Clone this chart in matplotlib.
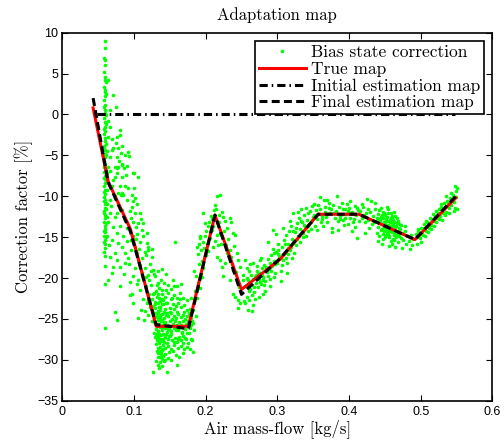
import numpy as np
import matplotlib
matplotlib.use("Agg")
import matplotlib.pyplot as plt

# ---------------- data ----------------
title = "Adaptation map"
xlabel = "Air mass-flow [kg/s]"
ylabel = "Correction factor [%]"
series_names = ["Bias state correction", "True map", "Initial estimation map", "Final estimation map"]

x_ticks = [0, 0.1, 0.2, 0.3, 0.4, 0.5, 0.6]
x_ticklabels = ["0", "0.1", "0.2", "0.3", "0.4", "0.5", "0.6"]
y_ticks = [-35, -30, -25, -20, -15, -10, -5, 0, 5, 10]
y_ticklabels = ["\u221235", "\u221230", "\u221225", "\u221220", "\u221215", "\u221210", "\u22125", "0", "5", "10"]

# map breakpoints
map_x = [0.043, 0.064, 0.095, 0.131, 0.176, 0.213, 0.250, 0.304, 0.357, 0.414, 0.492, 0.549]
true_map = [0.8, -8.2, -14.0, -25.9, -25.9, -12.3, -21.4, -17.7, -12.2, -12.2, -15.3, -10.2]
final_map = [2.0, -8.3, -14.3, -25.7, -26.2, -12.3, -22.0, -17.6, -12.2, -12.2, -15.3, -10.0]
init_x = [0.048, 0.548]
init_map = [0.0, 0.0]

# bias state correction samples (cluster by cluster)
spike_pts = [(0.059,9.0),(0.059,8.1),(0.0585,6.9),(0.059,6.6),(0.0595,6.0),(0.0585,5.2),(0.060,4.6),(0.059,4.2),(0.0585,3.3),(0.060,3.0),(0.059,2.7),(0.0595,2.2),(0.0585,1.8),(0.060,1.2),(0.059,0.6),(0.0595,0.2),(0.0585,-0.4),(0.060,-0.9),(0.059,-1.5),(0.0595,-2.0),(0.0585,-2.4),(0.060,-2.9),(0.059,-3.3),(0.0585,-3.8),(0.060,-4.3),(0.059,-4.8),(0.0595,-5.2),(0.0585,-5.7),(0.060,-6.1),(0.059,-6.6),(0.0585,-7.0),(0.060,-7.5),(0.059,-7.9),(0.0595,-8.4),(0.0585,-8.8),(0.060,-9.2),(0.059,-9.7),(0.0585,-10.1),(0.060,-10.5),(0.059,-11.0),(0.0595,-11.4),(0.0585,-11.8),(0.060,-12.3),(0.059,-12.7),(0.0585,-13.1),(0.060,-13.6),(0.059,-14.0),(0.0595,-14.4),(0.0585,-14.9),(0.060,-15.3),(0.059,-15.8),(0.0595,-16.3),(0.0585,-16.8),(0.059,-17.3),(0.059,-18.5),(0.0595,-20.7),(0.059,-26.1),(0.0605,-3.6),(0.0575,-6.4),(0.0605,-8.1),(0.0575,-9.5),(0.0605,-10.8),(0.0575,-12.0),(0.0605,-13.3),(0.0575,-14.2),(0.0605,-1.2),(0.0575,0.9),(0.0605,2.5),(0.061,4.0),
             (0.0605,-5.0),(0.0575,-4.0),(0.0605,-6.8),(0.0575,-7.8),(0.0605,-11.6),(0.0575,-15.6),(0.0605,-15.0),(0.0575,-10.6),(0.0605,-0.1),(0.0575,-1.8)]

upper_cloud_pts = [(0.0633,4.2),(0.071,2.4),(0.0745,0.9),(0.0665,0.5),(0.064,-0.8),(0.0665,-1.5),(0.064,-2.7),(0.0768,-2.7),(0.0805,-2.5),(0.081,-1.9),(0.0745,-3.5),(0.078,-4.1),(0.071,-4.1),(0.069,-4.3),(0.076,-5.2),(0.0875,-5.0),(0.0935,-5.1),(0.092,-4.6),(0.082,-4.7),(0.084,-3.9),(0.083,-6.2),(0.078,-6.4),(0.076,-6.6),(0.0735,-6.4),(0.0665,-5.2),(0.064,-6.4),(0.0735,-7.6),(0.083,-7.6),(0.086,-6.6),(0.083,-6.0),(0.099,-7.2),(0.1005,-7.2),(0.105,-7.6),(0.0875,-8.8),(0.092,-9.0),(0.0805,-8.8),(0.078,-9.6),(0.085,-9.8),(0.097,-9.8),(0.1015,-10.2),(0.071,-8.0),(0.076,-7.2),(0.069,-3.0),(0.062,-4.5),(0.0625,-7.2),(0.067,-6.9),(0.0895,-7.4),(0.0905,-6.3),(0.079,-5.7)]

left_cloud_pts = [(0.062,-9.2),(0.0689,-8.8),(0.0735,-10.0),(0.0666,-10.5),(0.0781,-10.9),(0.0829,-11.7),(0.062,-12.5),(0.0735,-12.5),(0.0875,-12.9),(0.0666,-12.1),(0.0712,-13.7),(0.0759,-14.5),(0.0689,-15.3),(0.0781,-15.7),(0.0829,-16.2),(0.0735,-17.0),(0.0666,-17.4),(0.0759,-17.8),(0.0875,-18.2),(0.0805,-18.6),(0.0712,-18.6),(0.0642,-20.2),(0.0805,-21.0),(0.0945,-22.1),(0.0759,-25.1),(0.0735,-24.1),(0.0625,-14.8),(0.0645,-16.0),(0.0685,-11.2),(0.080,-13.6),(0.0845,-14.8),(0.0905,-15.5),(0.088,-16.9),(0.092,-17.6),(0.0625,-11.0),(0.064,-13.2),(0.077,-12.0),(0.0815,-9.9),(0.0695,-19.4),(0.0855,-19.5),(0.0905,-13.9)]

descent_pts = [(0.0829,-9.6),(0.0898,-10.5),(0.0968,-11.3),(0.1015,-12.1),(0.106,-13.3),(0.1108,-14.1),(0.113,-14.9),(0.1178,-15.7),(0.12,-16.6),(0.1247,-17.4),(0.127,-19.0),(0.1294,-19.8),(0.134,-20.6),(0.1387,-21.5),(0.141,-22.7),(0.1363,-23.5),(0.1317,-24.3),(0.108,-12.1),(0.113,-13.3),(0.118,-14.5),(0.12,-16.2),(0.125,-16.4),(0.094,-11.8),(0.099,-10.6),(0.104,-11.0),(0.1035,-13.8),(0.109,-15.6),(0.115,-16.8),(0.122,-18.3),(0.119,-19.6),(0.124,-20.9),(0.128,-21.8),(0.115,-18.8),(0.1005,-9.0),(0.0955,-12.6),(0.098,-13.2),
               (0.099,-14.9),(0.1015,-16.2),(0.1038,-17.0),(0.106,-17.8),(0.1085,-18.4),(0.1015,-18.8),(0.111,-19.4),(0.113,-20.0),(0.106,-20.2),(0.094,-20.5),(0.099,-19.8),(0.104,-20.7),(0.108,-21.5),(0.097,-21.9),(0.106,-24.9),(0.113,-22.6),(0.118,-23.1),(0.123,-23.6),(0.12,-24.5),(0.114,-25.1),(0.125,-25.3),(0.117,-21.0),(0.096,-16.6),(0.093,-18.3),(0.0985,-23.0),(0.1105,-23.9),(0.121,-21.9),(0.1155,-24.0),(0.1025,-15.2),(0.0965,-15.4),
               (0.1045,-14.6),(0.1075,-16.4),(0.1115,-17.6),(0.1165,-17.2),(0.1215,-20.3),(0.1255,-22.6),(0.1105,-12.8),(0.1165,-19.9),(0.1235,-19.1),(0.1195,-22.7)]

valley_pts = [(0.128,-19.5),(0.134,-19.2),(0.139,-18.9),(0.145,-19.5),(0.138,-20.3),(0.132,-20.8),(0.142,-20.6),(0.155,-20.2),(0.160,-21.0),(0.152,-21.4),(0.148,-20.9),(0.165,-20.7),
              (0.127,-22.0),(0.131,-21.6),(0.135,-22.4),(0.139,-21.9),(0.143,-22.3),(0.147,-21.8),(0.151,-22.6),(0.156,-22.1),(0.160,-22.5),(0.164,-21.8),(0.168,-22.4),(0.129,-22.9),(0.133,-23.1),(0.137,-22.8),(0.141,-23.2),(0.146,-23.0),(0.154,-23.2),(0.158,-23.4),(0.162,-23.0),(0.170,-23.3),(0.174,-22.7),(0.166,-23.6),(0.150,-23.7),(0.144,-23.8),(0.136,-23.9),(0.130,-23.7),(0.126,-23.4),(0.178,-23.8),
              (0.128,-24.3),(0.132,-24.6),(0.134,-24.2),(0.137,-24.8),(0.139,-24.4),(0.142,-24.9),(0.145,-24.5),(0.148,-24.7),(0.151,-24.3),(0.153,-25.0),(0.156,-24.6),(0.159,-24.9),(0.162,-24.4),(0.165,-24.8),(0.168,-24.5),(0.171,-25.0),(0.174,-24.6),(0.177,-24.3),(0.180,-24.9),(0.127,-25.2),(0.130,-25.5),(0.133,-25.1),(0.135,-25.6),(0.138,-25.3),(0.141,-25.7),(0.144,-25.4),(0.147,-25.8),(0.150,-25.3),(0.154,-25.6),(0.157,-25.2),(0.160,-25.7),(0.163,-25.4),(0.166,-25.8),(0.169,-25.3),(0.172,-25.6),(0.176,-25.2),(0.182,-25.5),(0.131,-26.2),(0.134,-26.5),(0.136,-26.0),(0.139,-26.4),(0.143,-26.1),(0.146,-26.6),(0.149,-26.2),(0.152,-26.5),(0.156,-26.1),(0.161,-26.4),(0.164,-26.0),(0.167,-26.6),(0.171,-26.2),(0.174,-26.7),(0.178,-26.1),(0.184,-26.4),(0.128,-26.7),(0.133,-26.9),
              (0.130,-27.2),(0.132,-27.6),(0.134,-27.1),(0.136,-27.5),(0.138,-27.0),(0.140,-27.4),(0.142,-27.8),(0.144,-27.2),(0.147,-27.5),(0.150,-27.1),(0.153,-27.6),(0.157,-27.3),(0.160,-27.8),(0.163,-27.2),(0.166,-27.6),(0.169,-27.1),(0.172,-27.5),(0.176,-27.9),(0.179,-27.4),(0.131,-28.1),(0.133,-28.5),(0.135,-28.0),(0.137,-28.4),(0.139,-28.8),(0.141,-28.2),(0.144,-28.6),(0.148,-28.3),(0.152,-28.7),(0.156,-28.2),(0.161,-28.6),(0.165,-28.3),(0.170,-28.7),(0.174,-28.4),(0.183,-29.0),(0.134,-29.2),(0.136,-29.6),(0.138,-29.1),(0.140,-29.5),(0.143,-29.3),(0.147,-29.8),(0.158,-29.4),(0.168,-29.2),
              (0.127,-31.5),(0.146,-31.5),(0.134,-30.6),(0.160,-30.6),(0.131,-30.1),(0.137,-30.3),(0.139,-30.8),(0.142,-30.2),(0.152,-30.0),(0.135,-31.0),
              (0.1305,-24.8),(0.1325,-25.9),(0.1345,-27.8),(0.1355,-26.8),(0.1365,-28.9),(0.1375,-25.9),(0.1385,-27.7),(0.1395,-29.9),(0.1335,-29.7),(0.1315,-28.9),(0.1345,-23.5),(0.1385,-23.2),(0.1315,-22.3),(0.1355,-21.2),(0.1405,-26.9),(0.1365,-24.5),(0.1325,-27.3),(0.1395,-25.1),(0.1335,-25.6),(0.1375,-29.3),(0.1415,-24.2),(0.1445,-26.9),(0.1455,-28.0),(0.1435,-30.0),(0.1485,-27.1),(0.1495,-29.1),(0.1555,-27.8),(0.1625,-29.6),(0.1685,-27.9),(0.1735,-23.9),(0.157,-15.6),
              (0.1295,-23.2),(0.1305,-26.8),(0.1335,-24.0),(0.1355,-25.0),(0.1365,-27.0),(0.1385,-26.0),(0.1405,-28.7),(0.1425,-25.5),(0.1445,-23.1),(0.1465,-24.3),(0.1475,-26.2),(0.1505,-24.1),(0.1515,-26.9),(0.1535,-22.4),(0.1545,-28.9),(0.1565,-23.8),(0.1585,-26.3),(0.1595,-24.2),(0.1615,-27.5),(0.1635,-25.9),(0.1645,-22.6),(0.1665,-26.7),(0.1695,-24.1),(0.1715,-27.3),(0.1745,-25.6),(0.1765,-26.7),(0.1795,-25.8),(0.1815,-27.6),(0.1785,-28.7),(0.1555,-21.0),(0.1445,-21.5),(0.1395,-22.6),(0.1335,-21.9)]

rise_pts = [(0.180,-22.5),(0.183,-23.9),(0.185,-21.6),(0.187,-19.8),(0.184,-19.2),(0.188,-22.4),(0.190,-20.6),(0.191,-18.3),(0.189,-17.1),(0.193,-19.4),(0.194,-16.6),(0.195,-17.9),(0.196,-15.6),(0.197,-18.8),(0.198,-16.3),(0.199,-14.9),(0.200,-17.2),(0.201,-14.2),(0.202,-15.8),(0.203,-13.6),(0.204,-16.7),(0.205,-13.1),(0.206,-15.1),(0.207,-12.4),(0.208,-14.1),(0.209,-12.8),(0.210,-13.6),(0.211,-11.7),(0.186,-24.6),(0.181,-25.2),(0.192,-21.2),(0.195,-19.9),(0.192,-15.1),(0.1967,-12.1),(0.1875,-16.2),(0.192,-14.9),(0.2015,-16.6),(0.2085,-14.1),(0.2107,-16.2),(0.1985,-13.3),(0.1905,-15.9)]

peak_pts = [(0.22,-9.8),(0.2163,-10.0),(0.2131,-11.1),(0.215,-11.6),(0.2224,-11.9),(0.2247,-12.5),(0.234,-12.7),(0.2355,-13.2),(0.2386,-14.5),(0.241,-14.7),(0.22,-14.5),(0.2154,-14.7),(0.2154,-17.4),(0.22,-17.8),(0.2294,-17.0),(0.2433,-17.0),(0.2456,-17.8),(0.248,-18.6),(0.2386,-19.0),(0.2247,-19.8),(0.2224,-18.6),(0.234,-20.2),(0.2386,-21.9),(0.241,-22.3),(0.248,-23.1),(0.2456,-23.7),(0.2456,-22.7),(0.218,-13.2),(0.2215,-15.8),(0.226,-14.3),(0.228,-16.0),(0.231,-15.2),(0.2335,-16.6),(0.236,-17.4),(0.2395,-16.1),(0.2425,-19.3),(0.2445,-20.5),(0.2465,-21.1),(0.2365,-18.3),(0.2275,-18.2),(0.2175,-16.0),(0.2125,-15.5),(0.219,-12.3),(0.2265,-13.0),(0.2305,-13.9)]

climb_pts = [(0.252,-20.2),(0.2526,-19.6),(0.2573,-18.8),(0.255,-17.8),(0.2666,-18.2),(0.2759,-17.8),(0.2573,-22.3),(0.26,-22.7),(0.2643,-22.1),(0.2665,-23.3),(0.2597,-23.9),(0.2535,-22.8),(0.256,-21.0),(0.259,-20.3),(0.262,-21.4),(0.2635,-19.6),(0.265,-20.8),(0.268,-21.7),(0.2685,-19.9),(0.270,-20.6),(0.2715,-19.2),(0.273,-21.1),(0.2745,-20.1),(0.276,-19.4),(0.2775,-20.7),(0.279,-18.8),(0.280,-21.9),(0.2805,-19.9),(0.282,-18.4),(0.2835,-20.4),(0.285,-19.3),(0.2865,-17.7),(0.288,-18.9),(0.2895,-20.1),(0.291,-17.2),(0.2925,-18.5),(0.294,-16.4),(0.2935,-14.1),(0.2955,-17.9),(0.297,-19.4),(0.2985,-16.8),(0.300,-18.2),(0.3015,-15.9),(0.303,-17.3),(0.3045,-19.1),(0.306,-16.2),(0.3075,-17.8),(0.309,-15.3),(0.3105,-16.9),(0.312,-14.7),(0.3135,-18.2),(0.315,-15.8),(0.3165,-14.2),(0.318,-16.6),(0.3195,-13.6),(0.321,-15.2),(0.3225,-12.1),(0.324,-14.4),(0.3255,-16.0),(0.327,-13.3),(0.3285,-14.9),(0.330,-12.6),(0.3315,-14.0),(0.333,-11.5),(0.3345,-13.2),(0.336,-15.0),(0.3375,-12.3),(0.339,-13.8),(0.3405,-11.4),(0.342,-12.9),(0.3435,-14.3),(0.345,-11.8),(0.3465,-13.1),(0.348,-11.2),(0.3495,-12.5),(0.351,-10.9),(0.3525,-13.6),(0.354,-11.7),(0.3555,-12.8),(0.357,-11.1),(0.262,-18.3),(0.2685,-22.6),(0.271,-18.5),(0.2745,-22.3),(0.2775,-17.6),(0.283,-21.6),(0.2865,-15.6),(0.290,-21.0),(0.295,-19.9),(0.2985,-14.6),(0.305,-20.4),(0.308,-13.9),(0.313,-19.4),(0.3175,-13.0),(0.320,-17.6),(0.3235,-16.9),(0.3285,-11.9),(0.2575,-20.0),(0.2605,-19.1),(0.2665,-20.1),(0.2725,-20.0),(0.2785,-19.6),(0.2815,-20.8),(0.2875,-19.7),(0.2915,-19.2),(0.2965,-18.3),(0.3015,-17.1),(0.3065,-18.4),(0.3115,-17.6),(0.3155,-17.1),(0.3195,-16.2),(0.3235,-15.5),(0.3275,-15.2),(0.3315,-15.6),(0.3355,-14.5),(0.3395,-14.8),(0.3435,-13.6),(0.3475,-14.0),(0.3515,-12.3),(0.3555,-14.1),(0.2555,-23.1),(0.2645,-24.0),
             (0.2605,-21.6),(0.2675,-21.1),(0.2705,-19.6),(0.2735,-19.5),(0.2765,-20.5),(0.2795,-20.2),(0.2845,-18.7),(0.2895,-18.2),(0.2955,-16.9),(0.3005,-16.6),(0.3055,-17.4),(0.3105,-15.9),(0.3145,-16.3),(0.3215,-14.3),(0.3265,-13.9),(0.3325,-13.0),(0.3375,-13.5),(0.3425,-12.1),(0.3485,-12.9),(0.3545,-12.4)]

plateau_pts = [(0.3595,-10.1),(0.383,-10.0),(0.365,-10.5),(0.372,-10.8),(0.360,-11.5),(0.362,-12.8),(0.364,-13.6),(0.366,-11.9),(0.368,-12.5),(0.370,-13.2),(0.372,-11.4),(0.374,-12.1),(0.376,-13.9),(0.378,-11.1),(0.380,-12.7),(0.382,-11.8),(0.384,-13.0),(0.386,-11.3),(0.388,-12.4),(0.390,-10.8),(0.392,-12.9),(0.394,-11.6),(0.396,-12.2),(0.398,-13.4),(0.400,-11.4),(0.402,-12.6),(0.404,-11.9),(0.406,-13.1),(0.408,-11.2),(0.410,-12.3),(0.412,-11.7),(0.414,-13.0),(0.363,-12.4),(0.367,-11.3),(0.371,-12.2),(0.375,-11.6),(0.379,-12.0),(0.387,-12.8),(0.391,-11.5),(0.395,-12.7),(0.399,-11.8),(0.403,-12.1),(0.407,-12.8),(0.411,-11.4),(0.376,-14.4),(0.404,-14.2),(0.3695,-10.4),(0.397,-10.9),(0.361,-13.2),(0.385,-14.1),(0.393,-13.5),(0.409,-13.7),(0.401,-10.6),(0.4107,-15.1)]

slope_pts = [(0.4247,-10.3),(0.4177,-10.9),(0.416,-11.8),(0.418,-12.6),(0.420,-11.3),(0.422,-13.1),(0.424,-12.0),(0.426,-11.6),(0.428,-12.8),(0.430,-11.9),(0.432,-13.4),(0.434,-12.4),(0.436,-11.5),(0.438,-13.0),(0.440,-12.2),(0.441,-13.8),(0.442,-11.7),(0.443,-12.9),(0.444,-14.1),(0.445,-12.5),(0.446,-13.4),(0.447,-11.9),(0.448,-14.6),(0.449,-13.1),(0.450,-12.3),(0.451,-13.9),(0.452,-12.8),(0.453,-14.3),(0.454,-13.5),(0.455,-12.1),(0.456,-14.8),(0.457,-13.2),(0.458,-12.6),(0.459,-14.0),(0.460,-13.6),(0.461,-15.2),(0.462,-12.9),(0.463,-14.4),(0.464,-13.8),(0.465,-15.0),(0.466,-14.2),(0.467,-13.3),(0.468,-15.6),(0.469,-14.6),(0.470,-13.9),(0.472,-15.1),(0.474,-14.5),(0.476,-15.4),(0.478,-14.3),(0.480,-15.8),(0.482,-14.9),(0.484,-15.5),(0.486,-14.7),(0.488,-16.0),(0.490,-15.2),(0.4435,-13.3),(0.4455,-14.0),(0.4475,-12.7),(0.4495,-14.2),(0.4515,-13.0),(0.4535,-13.7),(0.4555,-14.1),(0.4575,-12.9),(0.4595,-13.3),(0.4615,-14.1),(0.4635,-13.1),(0.4655,-13.6),(0.4675,-14.7),(0.4695,-13.4),(0.4715,-14.0),(0.4505,-15.0),(0.4545,-11.6),(0.4585,-15.5),(0.4625,-11.9),(0.4525,-11.3),(0.4565,-16.1),(0.4605,-12.4),(0.4645,-16.2),(0.4385,-14.5),(0.4365,-10.8),(0.4285,-13.9),(0.4225,-14.5),(0.4305,-10.6),(0.4405,-15.5),(0.4465,-15.9),(0.4415,-12.8),(0.4485,-13.7),(0.4545,-14.6),(0.4595,-14.4),(0.4665,-12.6),(0.4735,-16.3),(0.4775,-13.6),(0.4845,-16.4),(0.4505,-13.4),(0.4525,-14.4),(0.4565,-13.6),(0.4585,-12.0),(0.4635,-15.3),(0.4685,-13.0),(0.4445,-11.4),(0.4425,-14.9),(0.4395,-12.7),(0.4345,-13.1),(0.4265,-12.9),(0.4195,-12.3),
             (0.4495,-12.1),(0.4515,-14.7),(0.4535,-12.5),(0.4555,-13.0),(0.4575,-14.3),(0.4595,-12.7),(0.4615,-13.5),(0.4625,-14.7),(0.4655,-14.6),(0.4645,-12.4),(0.4705,-14.9),(0.4725,-13.5),(0.4455,-12.3),(0.4475,-15.2),(0.4565,-15.0),(0.4605,-15.8)]

end_pts = [(0.493,-14.6),(0.495,-15.8),(0.497,-14.3),(0.499,-15.1),(0.501,-13.9),(0.503,-14.7),(0.505,-13.4),(0.507,-14.2),(0.509,-13.1),(0.511,-13.9),(0.513,-12.6),(0.515,-13.5),(0.517,-12.2),(0.519,-13.0),(0.521,-11.8),(0.523,-12.7),(0.525,-11.5),(0.527,-12.4),(0.529,-11.3),(0.531,-12.1),(0.533,-10.8),(0.535,-11.9),(0.537,-10.6),(0.539,-11.4),(0.541,-10.2),(0.543,-11.1),(0.545,-9.9),(0.547,-10.7),(0.549,-9.3),(0.5485,-8.7),(0.550,-10.1),(0.548,-11.4),(0.546,-11.8),(0.544,-10.4),(0.542,-9.6),(0.540,-12.0),(0.538,-11.0),(0.536,-10.0),(0.534,-12.3),(0.532,-11.4),(0.530,-12.9),(0.528,-11.0),(0.526,-12.8),(0.524,-12.1),(0.522,-13.2),(0.520,-12.4),(0.518,-13.6),(0.516,-12.9),(0.514,-14.0),(0.512,-13.3),(0.510,-14.4),(0.508,-13.0),(0.506,-14.8),(0.504,-13.9),(0.502,-14.6),(0.500,-15.6),(0.498,-15.0),(0.4965,-14.0),(0.5505,-11.6),(0.551,-9.0)]

clusters = [spike_pts, upper_cloud_pts, left_cloud_pts, descent_pts, valley_pts, rise_pts,
            peak_pts, climb_pts, plateau_pts, slope_pts, end_pts]

# ---------------- plot ----------------
serif = ["cmr10", "DejaVu Serif"]
sans = ["Liberation Sans", "DejaVu Sans"]
plt.rcParams["axes.unicode_minus"] = True

fig = plt.figure(figsize=(5.04, 4.43), dpi=100)
ax = fig.add_axes([0.1236, 0.0955, 0.8532, 0.8307])

bias = np.array([p for c in clusters for p in c])
ax.plot(bias[:, 0], bias[:, 1], linestyle="none", marker="o", markersize=2.6,
        markeredgewidth=0, color=(0, 1, 0), label=series_names[0], zorder=2)
ax.plot(map_x, true_map, color=(1, 0, 0), lw=2.2, label=series_names[1], zorder=3)
ax.plot(init_x, init_map, color="black", lw=2.2, dashes=(2.7, 1.3, 0.5, 1.3),
        label=series_names[2], zorder=4)
ax.plot(map_x, final_map, color="black", lw=2.2, dashes=(2.6, 1.4),
        label=series_names[3], zorder=5)

ax.set_xlim(0, 0.6)
ax.set_ylim(-35, 10)
ax.set_xticks(x_ticks)
ax.set_xticklabels(x_ticklabels, fontfamily=sans, fontsize=9)
ax.set_yticks(y_ticks)
ax.set_yticklabels(y_ticklabels, fontfamily=sans, fontsize=9)
ax.tick_params(direction="in", length=4, width=0.8, top=True, right=True)
ax.tick_params(axis="x", pad=4)
ax.tick_params(axis="y", pad=3)
for s in ax.spines.values():
    s.set_linewidth(1.2)

ax.set_title(title, fontfamily=serif, fontsize=12, pad=9)
ax.set_xlabel(xlabel, fontfamily=serif, fontsize=12, labelpad=1)
ax.set_ylabel(ylabel, fontfamily=serif, fontsize=12, labelpad=3)

leg = ax.legend(loc="upper right", prop={"family": serif, "size": 12.5}, numpoints=1,
                handlelength=2.7, handletextpad=0.3, labelspacing=0.08, borderpad=0.2,
                borderaxespad=0.5, fancybox=False, framealpha=1, edgecolor="black",
                markerscale=1.0)
leg.get_frame().set_linewidth(1.2)

fig.savefig("out.png", dpi=100)
